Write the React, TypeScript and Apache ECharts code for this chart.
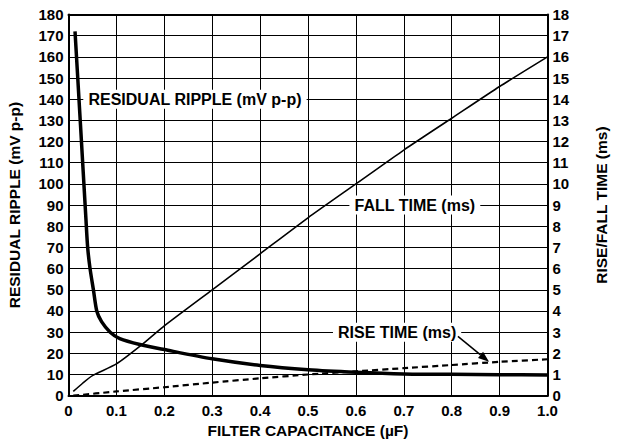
import React, { useEffect, useRef } from "react";
import * as echarts from "echarts";

const rippleData: [number, number][] = [
  [0.0136, 172], [0.025, 128], [0.0365, 83], [0.04, 70], [0.045, 60], [0.052, 50],
  [0.059, 40], [0.069, 35], [0.087, 30], [0.107, 27], [0.149, 24.2], [0.2, 21.8],
  [0.3, 17.4], [0.4, 14.3], [0.5, 12.3], [0.6, 11.1], [0.7, 10.3], [0.8, 10.1],
  [0.9, 9.9], [1.0, 9.8],
];
const fallData: [number, number][] = [
  [0.01, 0.2], [0.03, 0.6], [0.05, 0.95], [0.1, 1.5], [0.15, 2.35], [0.2, 3.3],
  [0.3, 5.0], [0.4, 6.7], [0.5, 8.4], [0.6, 10.0], [0.7, 11.6], [0.8, 13.1],
  [0.9, 14.6], [1.0, 16.0],
];
const riseData: [number, number][] = [
  [0.01, 0], [0.1, 0.2], [0.2, 0.4], [0.3, 0.62], [0.4, 0.82], [0.5, 1.0],
  [0.6, 1.15], [0.7, 1.3], [0.8, 1.45], [0.9, 1.6], [1.0, 1.72],
];

const FONT = "Arial, 'Liberation Sans', sans-serif";

export default function App() {
  const ref = useRef<HTMLDivElement>(null);
  useEffect(() => {
    if (!ref.current) return;
    const chart = echarts.init(ref.current, undefined, { renderer: "svg" });
    const labelStyle = { color: "#000", fontWeight: "bold" as const, fontSize: 15, fontFamily: FONT };
    const nameStyle = { color: "#000", fontWeight: "bold" as const, fontSize: 15.5, fontFamily: FONT };
    const gridLine = { show: true, lineStyle: { color: "#000", width: 1, opacity: 1 } };
    chart.setOption({
      animation: false,
      grid: {
        left: 68.5, right: 71.5, top: 14.5, bottom: 48.3,
        containLabel: false, outerBoundsMode: "none",
      },
      xAxis: [
        {
          type: "value", min: 0, max: 1, interval: 0.1,
          name: "FILTER CAPACITANCE (µF)", nameLocation: "middle", nameGap: 25,
          nameTextStyle: { ...nameStyle },
          axisLine: { show: true, onZero: false, lineStyle: { color: "#000", width: 2 } },
          axisTick: { show: false },
          axisLabel: { ...labelStyle, margin: 7, formatter: (v: number) => (v === 0 ? "0" : v.toFixed(1)) },
          splitLine: gridLine,
        },
        {
          type: "value", min: 0, max: 1, interval: 0.1, position: "top",
          axisLine: { show: true, onZero: false, lineStyle: { color: "#000", width: 2 } },
          axisTick: { show: false }, axisLabel: { show: false }, splitLine: { show: false },
        },
      ],
      yAxis: [
        {
          type: "value", min: 0, max: 180, interval: 10,
          name: "RESIDUAL RIPPLE (mV p-p)", nameLocation: "middle", nameGap: 46.5, nameRotate: 90,
          nameTextStyle: { ...nameStyle },
          axisLine: { show: true, onZero: false, lineStyle: { color: "#000", width: 2 } },
          axisTick: { show: false },
          axisLabel: { ...labelStyle, margin: 5 },
          splitLine: gridLine,
        },
        {
          type: "value", min: 0, max: 18, interval: 1, position: "right",
          name: "RISE/FALL TIME (ms)", nameLocation: "middle", nameGap: 46, nameRotate: 90,
          nameTextStyle: { ...nameStyle },
          axisLine: { show: true, onZero: false, lineStyle: { color: "#000", width: 2 } },
          axisTick: { show: false },
          axisLabel: { ...labelStyle, margin: 5 },
          splitLine: { show: false },
        },
      ],
      series: [
        {
          type: "line", name: "Residual ripple", data: rippleData, yAxisIndex: 0, z: 5,
          showSymbol: false, smooth: 0.25, lineStyle: { color: "#000", width: 3.5 },
        },
        {
          type: "line", name: "Fall time", data: fallData, yAxisIndex: 1, z: 5,
          showSymbol: false, smooth: 0.2, lineStyle: { color: "#000", width: 1.6 },
        },
        {
          type: "line", name: "Rise time", data: riseData, yAxisIndex: 1, z: 5,
          showSymbol: false, smooth: 0.2, lineStyle: { color: "#000", width: 2.2, type: [6, 4] },
        },
      ],
    });

    const pL = (x: number, y: number) => chart.convertToPixel({ xAxisIndex: 0, yAxisIndex: 0 }, [x, y]) as number[];
    const pR = (x: number, y: number) => chart.convertToPixel({ xAxisIndex: 0, yAxisIndex: 1 }, [x, y]) as number[];
    const txt = (p: number[], text: string) => ({
      type: "text", x: p[0], y: p[1], z: 100,
      style: {
        text, fill: "#000", font: `bold 16px ${FONT}`, align: "center", verticalAlign: "middle",
        backgroundColor: "#fff", padding: [2, 5, 1, 5],
      },
    });
    const a0 = pR(0.813, 2.8);
    const a1 = pR(0.878, 1.6);
    const dx = a1[0] - a0[0], dy = a1[1] - a0[1];
    const len = Math.sqrt(dx * dx + dy * dy);
    const ux = dx / len, uy = dy / len;
    const hl = 11, hw = 4;
    const bx = a1[0] - ux * hl, by = a1[1] - uy * hl;
    chart.setOption({
      graphic: [
        txt(pL(0.264, 140), "RESIDUAL RIPPLE (mV p-p)"),
        txt(pR(0.723, 9), "FALL TIME (ms)"),
        txt(pR(0.686, 3), "RISE TIME (ms)"),
        {
          type: "line", z: 100,
          shape: { x1: a0[0], y1: a0[1], x2: bx, y2: by },
          style: { stroke: "#000", lineWidth: 1.5 },
        },
        {
          type: "polygon", z: 100,
          shape: { points: [[a1[0], a1[1]], [bx - uy * hw, by + ux * hw], [bx + uy * hw, by - ux * hw]] },
          style: { fill: "#000" },
        },
      ],
    });
    return () => chart.dispose();
  }, []);
  return (
    <div
      ref={ref}
      style={{ position: "fixed", left: 0, top: 0, width: 619, height: 444, background: "#fff" }}
    />
  );
}
